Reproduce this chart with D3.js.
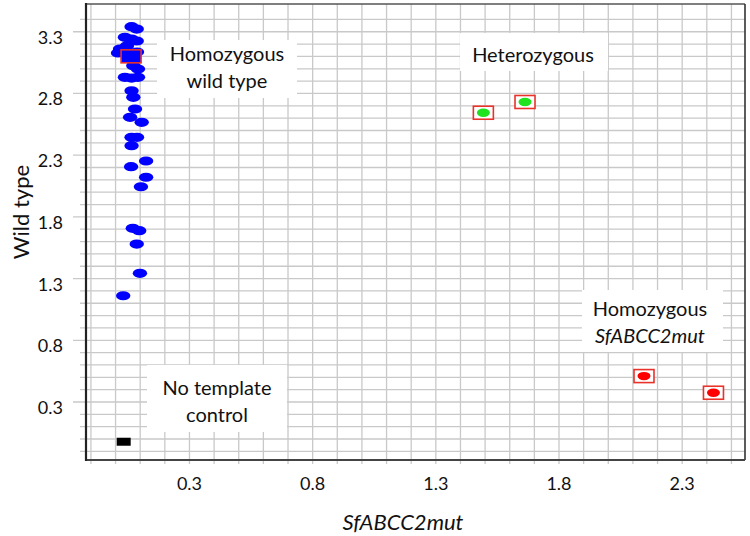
<!DOCTYPE html>
<html><head><meta charset="utf-8">
<script src="https://cdn.jsdelivr.net/npm/d3@7"></script>
<style>body{margin:0;background:#fff}svg{display:block}</style>
</head><body>
<svg id="c" width="750" height="536"></svg>
<script>
// Homozygous wild type (blue)
const blueX = [0.065,0.086,0.038,0.065,0.086,0.018,0.010,0.046,0.087,0.072,0.091,0.038,0.065,0.091,0.065,0.072,0.079,0.059,0.106,0.065,0.087,0.065,0.124,0.063,0.124,0.103,0.070,0.096,0.086,0.099,0.031,0.063];
const blueY = [3.341,3.322,3.255,3.241,3.225,3.160,3.128,3.185,3.136,3.025,2.998,2.931,2.925,2.931,2.822,2.769,2.674,2.607,2.566,2.445,2.445,2.377,2.253,2.207,2.121,2.044,1.707,1.688,1.580,1.343,1.161,3.101];
// Heterozygous (green)
const greenX = [1.493,1.662];
const greenY = [2.644,2.731];
// Homozygous SfABCC2mut (red)
const redX = [2.145,2.427];
const redY = [0.510,0.375];
// No template control
const ntcX = [0.033];
const ntcY = [-0.022];
// Boxed reference samples
const boxX = [0.063,1.493,1.662,2.145,2.427];
const boxY = [3.101,2.644,2.731,0.510,0.375];
const boxFill = ["#0000ff","#ffffff","#ffffff","#ffffff","#ffffff"];
// Ticks
const xMinor = d3.range(-1,26).map(i=>i/10);
const yMinor = d3.range(-1,35).map(i=>i/10);
const xLabels = [0.3,0.8,1.3,1.8,2.3];
const yLabels = [0.3,0.8,1.3,1.8,2.3,2.8,3.3];
// Cluster labels
const labelText = [["Homozygous","wild type"],["Heterozygous"],["Homozygous","SfABCC2mut"],["No template","control"]];
const labelItalicLine = [-1,-1,1,-1];

const svg = d3.select("#c");
const x = d3.scaleLinear().domain([-0.12,2.555]).range([86,745]);
const y = d3.scaleLinear().domain([-0.17,3.525]).range([460,4]);
const font = "Lato, 'Open Sans', sans-serif";
const gridC = "#c9c9c9";

// grid
const g = svg.append("g");
g.selectAll(".vx").data(xMinor).join("line")
  .attr("x1",d=>x(d)).attr("x2",d=>x(d)).attr("y1",y.range()[1]).attr("y2",y.range()[0]+4)
  .attr("stroke",gridC).attr("stroke-width",1.3);
g.selectAll(".hy").data(yMinor).join("line")
  .attr("y1",d=>y(d)).attr("y2",d=>y(d)).attr("x1",d=>yLabels.some(v=>Math.abs(v-d)<1e-6)?73:80).attr("x2",x.range()[1])
  .attr("stroke",gridC).attr("stroke-width",1.3);

// label boxes (px layout)
const boxes = [
  {x0:157,y0:40,x1:297,y1:98,cx:227,lines:[53,80]},
  {x0:460,y0:33,x1:608,y1:71,cx:533,lines:[54]},
  {x0:582,y0:290,x1:723,y1:352,cx:650,lines:[308,335]},
  {x0:147,y0:365,x1:287,y1:432,cx:217,lines:[387,414]}
];
boxes.forEach((b,i)=>{
  svg.append("rect").attr("x",b.x0).attr("y",b.y0).attr("width",b.x1-b.x0).attr("height",b.y1-b.y0).attr("fill","#fff");
  labelText[i].forEach((t,j)=>{
    svg.append("text").attr("x",b.cx).attr("y",b.lines[j]).attr("text-anchor","middle")
      .attr("dominant-baseline","central").attr("font-family",font).attr("font-size",20)
      .attr("font-style",labelItalicLine[i]===j?"italic":"normal").attr("fill","#111").text(t);
  });
});

// points
const pts = svg.append("g");
pts.selectAll(".b").data(blueX.map((v,i)=>[v,blueY[i]])).join("ellipse")
  .attr("cx",d=>x(d[0])).attr("cy",d=>y(d[1])).attr("rx",7.2).attr("ry",4.6).attr("fill","#0000ff");
pts.selectAll(".bx").data(boxX.map((v,i)=>[v,boxY[i],boxFill[i]])).join("rect")
  .attr("x",d=>x(d[0])-10).attr("y",d=>y(d[1])-6.5).attr("width",20).attr("height",13)
  .attr("fill",d=>d[2]).attr("stroke","#e8322a").attr("stroke-width",1.6);
pts.selectAll(".gr").data(greenX.map((v,i)=>[v,greenY[i]])).join("ellipse")
  .attr("cx",d=>x(d[0])).attr("cy",d=>y(d[1])).attr("rx",6.5).attr("ry",4.2).attr("fill","#1fe31f");
pts.selectAll(".rd").data(redX.map((v,i)=>[v,redY[i]])).join("ellipse")
  .attr("cx",d=>x(d[0])).attr("cy",d=>y(d[1])).attr("rx",6.5).attr("ry",4.2).attr("fill","#ff0000");
pts.selectAll(".nt").data(ntcX.map((v,i)=>[v,ntcY[i]])).join("rect")
  .attr("x",d=>x(d[0])-7).attr("y",d=>y(d[1])-4).attr("width",14).attr("height",8).attr("fill","#000");

// frame
const [X0,X1] = x.range(), [Y0,Y1] = [y.range()[1], y.range()[0]];
svg.append("line").attr("x1",X0).attr("x2",X1).attr("y1",Y0).attr("y2",Y0).attr("stroke","#555").attr("stroke-width",1.6);
svg.append("line").attr("x1",X1).attr("x2",X1).attr("y1",Y0).attr("y2",Y1).attr("stroke","#333").attr("stroke-width",1.6);
svg.append("line").attr("x1",X0).attr("x2",X1).attr("y1",Y1).attr("y2",Y1).attr("stroke","#444").attr("stroke-width",1.8);
svg.append("line").attr("x1",X0).attr("x2",X0).attr("y1",Y0-1).attr("y2",Y1+1).attr("stroke","#222").attr("stroke-width",2.2);

// tick labels
svg.selectAll(".xl").data(xLabels).join("text")
  .attr("x",d=>x(d)).attr("y",483).attr("text-anchor","middle").attr("dominant-baseline","central")
  .attr("font-family",font).attr("font-size",18).attr("fill","#111").text(d=>d3.format(".1f")(d));
svg.selectAll(".yl").data(yLabels).join("text")
  .attr("x",63).attr("y",d=>y(d)+5).attr("text-anchor","end").attr("dominant-baseline","central")
  .attr("font-family",font).attr("font-size",18).attr("fill","#111").text(d=>d3.format(".1f")(d));

// axis titles
svg.append("text").attr("x",403).attr("y",521).attr("text-anchor","middle").attr("dominant-baseline","central")
  .attr("font-family",font).attr("font-size",22).attr("font-style","italic").attr("fill","#111").text("SfABCC2mut");
svg.append("text").attr("transform","translate(20,212) rotate(-90)").attr("text-anchor","middle").attr("dominant-baseline","central")
  .attr("font-family",font).attr("font-size",22).attr("fill","#111").text("Wild type");
</script>
</body></html>
